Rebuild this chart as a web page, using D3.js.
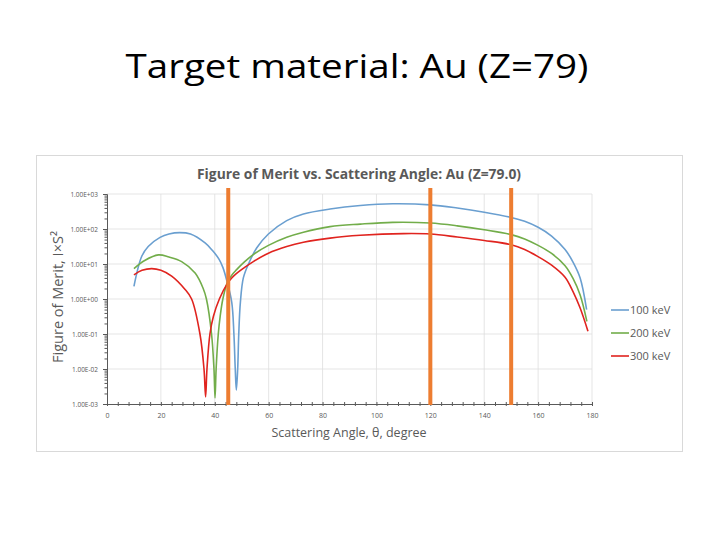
<!DOCTYPE html>
<html>
<head>
<meta charset="utf-8">
<script src="https://cdn.jsdelivr.net/npm/d3@7"></script>
<style>
  body { margin: 0; background: #fff; }
  text { font-family: "Open Sans", "Noto Sans", sans-serif; }
</style>
</head>
<body>
<div class="svgcontainer"></div>
<script>
// angles (degree) and figure of merit
const angles100 = [10, 12.9, 15.3, 19.7, 23, 27, 31, 36.4, 39, 41.5, 43, 44.4, 46.3, 47.1, 47.6, 48.0, 48.5, 48.9, 49.5, 50.6, 52.5, 55.6, 59.9, 66.7, 72.9, 82.8, 94, 106, 120, 130, 140, 150, 155, 160, 165, 170, 173, 175.6, 178];
const fom100 = [2.3, 16.6, 31.6, 57.5, 72, 79, 72, 40, 25, 14, 8, 3.5, 0.8, 0.1, 0.01, 0.0025, 0.01, 0.1, 0.8, 4, 10, 29, 72, 174, 269, 372, 468, 525, 490, 398, 302, 214, 166, 112, 63, 26, 11.2, 4, 0.5];

const angles200 = [10, 14, 19.1, 23, 27.7, 32.7, 35.7, 36.9, 38.8, 39.7, 40.1, 40.5, 41.3, 42.0, 43.0, 44.7, 46.3, 48.1, 51, 54.3, 59.9, 66.7, 72.9, 82.8, 94, 106, 120, 130, 140, 150, 155, 160, 165, 170, 173, 175.6, 178.1];
const fom200 = [7.4, 12.6, 18.2, 15.8, 11.7, 5.5, 2, 1, 0.1, 0.01, 0.0015, 0.01, 0.1, 0.32, 1, 3.0, 4.8, 6.9, 11.5, 18.6, 34, 58, 81, 117, 138, 155, 148, 123, 95, 69, 52, 34, 20, 8.9, 3.8, 1.3, 0.23];

const angles300 = [10, 13, 16.6, 20, 24, 28.9, 31.4, 34.5, 36.0, 36.6, 37.1, 38.2, 39.5, 41.7, 44.7, 46.3, 48.1, 51, 54.3, 59.9, 66.7, 72.9, 82.8, 94, 110, 120, 130, 140, 150, 155, 160, 165, 170, 173, 175.6, 178.5];
const fom300 = [4.9, 6.6, 7.4, 6.6, 4.5, 1.9, 1, 0.1, 0.01, 0.0016, 0.01, 0.1, 0.32, 1, 2.8, 4.0, 5.4, 7.9, 11.7, 20.4, 31.6, 41.7, 55, 66, 74, 72, 59, 47, 35.5, 26, 16.2, 9.3, 4.2, 1.6, 0.55, 0.12];

const seriesNames = ["100 keV", "200 keV", "300 keV"];
const seriesColors = ["#6a9fd0", "#72ad4a", "#e0241f"];
const markerAngles = [45, 120, 150];

const xTicks = [0, 20, 40, 60, 80, 100, 120, 140, 160, 180];
const yTicks = [1e-3, 1e-2, 1e-1, 1e0, 1e1, 1e2, 1e3];
const yTickLabels = ["1.00E-03", "1.00E-02", "1.00E-01", "1.00E+00", "1.00E+01", "1.00E+02", "1.00E+03"];

function drawChart()
{
    const W = 720, H = 540;
    const plot = {left: 107, right: 592, top: 194, bottom: 404};

    const svg = d3.select('.svgcontainer')
        .append('svg')
        .attr('width', W)
        .attr('height', H);

    svg.append('rect').attr('width', W).attr('height', H).attr('fill', '#fff');

    // slide title
    svg.append('text')
        .attr('x', 357).attr('y', 78)
        .attr('text-anchor', 'middle')
        .attr('font-size', 33)
        .attr('fill', '#000')
        .attr('textLength', 463).attr('lengthAdjust', 'spacingAndGlyphs')
        .text('Target material: Au (Z=79)');

    // chart frame
    svg.append('rect')
        .attr('x', 36.5).attr('y', 155.5)
        .attr('width', 646).attr('height', 296)
        .attr('fill', '#fff')
        .attr('stroke', '#d9d9d9');

    svg.append('text')
        .attr('x', 359).attr('y', 179)
        .attr('text-anchor', 'middle')
        .attr('font-size', 13.5).attr('font-weight', 'bold')
        .attr('fill', '#595959')
        .attr('textLength', 324).attr('lengthAdjust', 'spacingAndGlyphs')
        .text('Figure of Merit vs. Scattering Angle: Au (Z=79.0)');

    const x = d3.scaleLinear().domain([0, 180]).range([plot.left, plot.right]);
    const y = d3.scaleLog().domain([1e-3, 1e3]).range([plot.bottom, plot.top]);

    // gridlines
    svg.append('g')
        .selectAll('line.vg')
        .data(xTicks.slice(1))
        .enter()
        .append('line')
        .attr('x1', d => x(d)).attr('x2', d => x(d))
        .attr('y1', plot.top).attr('y2', plot.bottom)
        .attr('stroke', '#dedede').attr('stroke-width', 0.8);
    svg.append('g')
        .selectAll('line.hg')
        .data(yTicks.slice(1))
        .enter()
        .append('line')
        .attr('x1', plot.left).attr('x2', plot.right)
        .attr('y1', d => y(d)).attr('y2', d => y(d))
        .attr('stroke', '#dedede').attr('stroke-width', 0.8);

    // x axis
    const xAxis = svg.append('g')
        .attr('transform', `translate(0, ${plot.bottom})`)
        .call(d3.axisBottom(x).tickValues(xTicks).tickSize(0).tickPadding(9).tickFormat(d3.format('d')));
    xAxis.select('.domain').attr('stroke', '#595959');
    xAxis.selectAll('text').attr('font-size', 7).attr('fill', '#595959');

    const xMinor = svg.append('g')
        .attr('transform', `translate(0, ${plot.bottom})`)
        .call(d3.axisBottom(x).tickValues(d3.range(0, 181, 4)).tickFormat(''));
    xMinor.select('.domain').remove();
    xMinor.selectAll('line').attr('y1', -2).attr('y2', 2).attr('stroke', '#595959');

    // y axis
    const minorY = [];
    yTicks.slice(0, -1).forEach(function(d)
    {
        for (let k = 2; k < 10; k++) minorY.push(d * k);
    });
    const yAxis = svg.append('g')
        .attr('transform', `translate(${plot.left}, 0)`)
        .call(d3.axisLeft(y).tickValues(yTicks).tickSize(4).tickPadding(5)
            .tickFormat((d, i) => yTickLabels[i]));
    yAxis.select('.domain').attr('stroke', '#595959');
    yAxis.selectAll('line').attr('stroke', '#595959');
    yAxis.selectAll('text').attr('font-size', 6.5).attr('fill', '#595959');

    const yMinor = svg.append('g')
        .attr('transform', `translate(${plot.left}, 0)`)
        .call(d3.axisLeft(y).tickValues(minorY).tickSize(2.5).tickFormat(''));
    yMinor.select('.domain').remove();
    yMinor.selectAll('line').attr('stroke', '#595959');

    // axis titles
    svg.append('text')
        .attr('transform', 'translate(63, 297) rotate(-90)')
        .attr('text-anchor', 'middle')
        .attr('font-size', 14.5)
        .attr('fill', '#595959')
        .text('Figure of Merit, I\u00d7S\u00b2');

    svg.append('text')
        .attr('x', 349).attr('y', 437)
        .attr('text-anchor', 'middle')
        .attr('font-size', 12.5)
        .attr('fill', '#595959')
        .text('Scattering Angle, \u03b8, degree');

    // curves
    const series = [
        {name: seriesNames[0], angles: angles100, fom: fom100},
        {name: seriesNames[1], angles: angles200, fom: fom200},
        {name: seriesNames[2], angles: angles300, fom: fom300}
    ];
    const line = d3.line()
        .x(d => x(d[0]))
        .y(d => y(d[1]))
        .curve(d3.curveCatmullRom.alpha(0.5));

    svg.append('g')
        .selectAll('path.curve')
        .data(series)
        .enter()
        .append('path')
        .attr('class', 'curve')
        .attr('fill', 'none')
        .attr('stroke', (d, i) => seriesColors[i])
        .attr('stroke-width', 1.6)
        .attr('d', d => line(d.angles.map((a, i) => [a, d.fom[i]])));

    // orange marker lines
    svg.append('g')
        .selectAll('line.mark')
        .data(markerAngles)
        .enter()
        .append('line')
        .attr('x1', d => x(d)).attr('x2', d => x(d))
        .attr('y1', 188).attr('y2', plot.bottom + 1)
        .attr('stroke', '#ed7d31')
        .attr('stroke-width', 4);

    // legend
    const leg = svg.append('g')
        .selectAll('g.leg')
        .data(series)
        .enter()
        .append('g')
        .attr('transform', (d, i) => `translate(611, ${310 + i * 23})`);
    leg.append('line')
        .attr('x1', 0).attr('x2', 18)
        .attr('stroke', (d, i) => seriesColors[i])
        .attr('stroke-width', 1.6);
    leg.append('text')
        .attr('x', 19).attr('dy', 4)
        .attr('font-size', 11)
        .attr('fill', '#595959')
        .text(d => d.name);
}

drawChart();
</script>
</body>
</html>
